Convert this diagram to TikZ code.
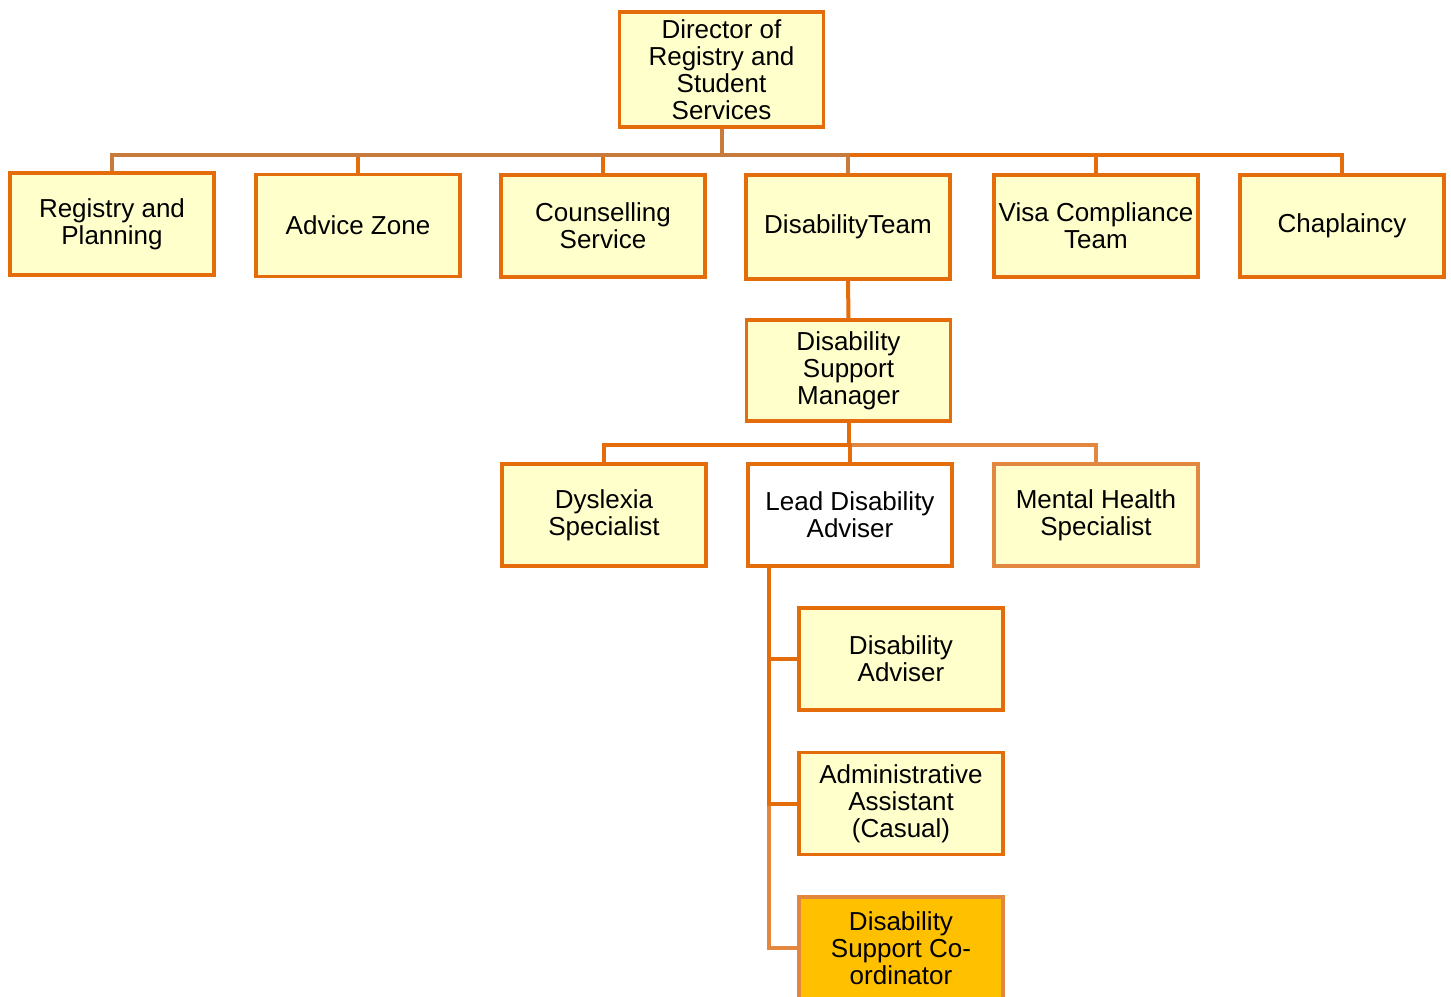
\documentclass[tikz,border=0pt]{standalone}
\usepackage{fontspec}
\setmainfont{Liberation Sans}
\usetikzlibrary{positioning,calc}
\definecolor{staffline}{HTML}{E46C0A}
\definecolor{staffbrown}{HTML}{C67B3C}
\definecolor{stafflight}{HTML}{E2873F}
\definecolor{stafffill}{HTML}{FFFFCC}
\definecolor{staffgold}{HTML}{FFC000}
\tikzset{
  post/.style={rectangle,draw=staffline,line width=1.7pt,fill=stafffill,
    minimum width=102pt,minimum height=51pt,inner sep=1pt,align=center,
    font=\fontsize{13}{13.5}\selectfont},
  leadpost/.style={post,fill=white},
  mhpost/.style={post,draw=stafflight,line width=2.2pt},
  coordpost/.style={post,draw=stafflight,line width=2.2pt,fill=staffgold},
  link/.style={draw=staffline,line width=2pt},
  brownlink/.style={link,draw=staffbrown},
  lightlink/.style={link,draw=stafflight},
}
\begin{document}
\begin{tikzpicture}[x=0.5pt,y=-0.5pt]
\useasboundingbox (0,0) rectangle (1451,996);
% top of the tree
\node[post,minimum height=57.5pt] (director) at (721.5,69.5) {Director of\\Registry and\\Student\\Services};
\node[post] (registry) at (112,224) {Registry and\\Planning};
\node[post] (advice) at (358,225.5) {Advice Zone};
\node[post] (counselling) at (603,226) {Counselling\\Service};
\node[post,minimum height=52pt] (disteam) at (848,227) {DisabilityTeam};
\node[post] (visa) at (1096,226) {Visa Compliance\\Team};
\node[post] (chaplaincy) at (1342,226) {Chaplaincy};
\draw[link] (director.south) -- ++(0,26) -| (advice.north);
\draw[link] (director.south) -- ++(0,26) -| (counselling.north);
\draw[link] (director.south) -- ++(0,26) -| (visa.north);
\draw[link] (director.south) -- ++(0,26) -| (chaplaincy.north);
\draw[brownlink] (director.south) -- ++(0,26) -| (registry.north);
\draw[brownlink] (director.south) -- ++(0,26) -| (disteam.north);
% disability team
\node[post,minimum height=50.5pt] (dsm) at (848.5,370.5) {Disability\\Support\\Manager};
\draw[link] (disteam.south) -- (dsm.north);
\node[post] (dyslexia) at (604,515) {Dyslexia\\Specialist};
\node[leadpost] (lead) at (850,515) {Lead Disability\\Adviser};
\node[mhpost] (mental) at (1096,515) {Mental Health\\Specialist};
\draw[lightlink] (dsm.south) -- ++(0,22) -| (mental.north);
\draw[link] (dsm.south) -- ++(0,22) -| (dyslexia.north);
\draw[link] (dsm.south) -- ++(0,22) -| (lead.north);
% advisers under the lead
\node[post] (adviser) at (901,659) {Disability\\Adviser};
\node[post] (admin) at (901,803.5) {Administrative\\Assistant\\(Casual)};
\node[coordpost] (coord) at (901,948) {Disability\\Support Co-\\ordinator};
\draw[lightlink] ([xshift=-40.5pt]lead.south) |- (coord.west);
\draw[link] ([xshift=-40.5pt]lead.south) |- (adviser.west);
\draw[link] ([xshift=-40.5pt]lead.south) |- (admin.west);
\end{tikzpicture}
\end{document}
